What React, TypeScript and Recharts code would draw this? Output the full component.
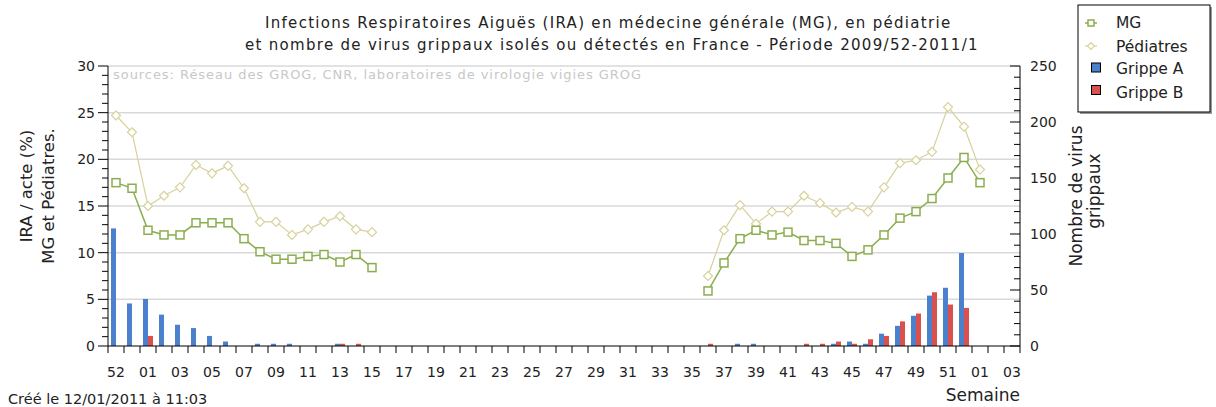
import React from 'react'
import { ComposedChart, Bar, Line, XAxis, YAxis, CartesianGrid } from 'recharts'

// semaines 2009/52 -> 2011/03
const weeks = [
  '52', '53',
  '01', '02', '03', '04', '05', '06', '07', '08', '09', '10',
  '11', '12', '13', '14', '15', '16', '17', '18', '19', '20',
  '21', '22', '23', '24', '25', '26', '27', '28', '29', '30',
  '31', '32', '33', '34', '35', '36', '37', '38', '39', '40',
  '41', '42', '43', '44', '45', '46', '47', '48', '49', '50',
  '51', '52',
  '01', '02', '03',
]

const N = null
// IRA / acte (%) - médecine générale
const mg = [
  17.5, 16.9, 12.4, 11.9, 11.9, 13.2, 13.2, 13.2, 11.5, 10.1, 9.3, 9.3, 9.6, 9.8, 9.0, 9.8, 8.4,
  N, N, N, N, N, N, N, N, N, N, N, N, N, N, N, N, N, N, N, N,
  5.9, 8.9, 11.5, 12.4, 11.9, 12.2, 11.3, 11.3, 11.0, 9.6, 10.3, 11.9, 13.7, 14.4, 15.8, 18.0, 20.2, 17.5,
  N, N,
]
// pédiatres
const ped = [
  24.7, 22.9, 15.0, 16.1, 17.0, 19.4, 18.5, 19.3, 16.9, 13.3, 13.3, 11.9, 12.5, 13.3, 13.9, 12.5, 12.2,
  N, N, N, N, N, N, N, N, N, N, N, N, N, N, N, N, N, N, N, N,
  7.5, 12.4, 15.1, 13.1, 14.4, 14.4, 16.1, 15.3, 14.3, 14.9, 14.4, 17.0, 19.6, 19.9, 20.8, 25.6, 23.5, 18.9,
  N, N,
]
// nombre de virus grippaux
const grippeA = [
  105, 38, 42, 28, 19, 16, 9, 4, 0, 2, 2, 2, 0, 0, 2, 0, 0,
  0, 0, 0, 0, 0, 0, 0, 0, 0, 0, 0, 0, 0, 0, 0, 0, 0, 0, 0, 0,
  0, 0, 2, 2, 0, 0, 0, 0, 2, 4, 2, 11, 18, 27, 45, 52, 83, 0,
  0, 0,
]
const grippeB = [
  0, 0, 9, 0, 0, 0, 0, 0, 0, 0, 0, 0, 0, 0, 2, 2, 0,
  0, 0, 0, 0, 0, 0, 0, 0, 0, 0, 0, 0, 0, 0, 0, 0, 0, 0, 0, 0,
  2, 0, 0, 0, 0, 0, 2, 2, 4, 2, 6, 9, 22, 29, 48, 37, 34, 0,
  0, 0,
]

const leftTicks = Array.from({ length: 31 }, (_, i) => i)
const rightTicks = Array.from({ length: 26 }, (_, i) => i * 10)

const data = weeks.map((w, i) => ({
  week: w,
  mg: mg[i],
  ped: ped[i],
  a: grippeA[i],
  b: grippeB[i],
}))

const FONT = '"DejaVu Sans", Verdana, sans-serif'
const BAND = 912 / weeks.length
const MG_COLOR = '#8aae4e'
const PED_COLOR = '#d8d19c'
const A_COLOR = '#4a80cc'
const B_COLOR = '#d9504e'

const XTick = (props: any) => {
  const { x, y, payload, index } = props
  const left = x - BAND / 2
  return (
    <g>
      <line x1={left} y1={y} x2={left} y2={y + 7} stroke="#000" />
      {index === weeks.length - 1 && (
        <line x1={x + BAND / 2} y1={y} x2={x + BAND / 2} y2={y + 7} stroke="#000" />
      )}
      {index % 2 === 0 && (
        <text x={x} y={y + 31} textAnchor="middle" fontSize={14} fontFamily={FONT} fill="#222">
          {payload.value}
        </text>
      )}
    </g>
  )
}

const LeftTick = (props: any) => {
  const { x, y, payload } = props
  const major = payload.value % 5 === 0
  return (
    <g>
      <line x1={x - (major ? 10 : 6)} y1={y} x2={x} y2={y} stroke="#000" />
      {major && (
        <text x={x - 13} y={y} dy="0.36em" textAnchor="end" fontSize={14} fontFamily={FONT} fill="#222">
          {payload.value}
        </text>
      )}
    </g>
  )
}

const RightTick = (props: any) => {
  const { x, y, payload } = props
  const major = payload.value % 50 === 0
  return (
    <g>
      <line x1={x} y1={y} x2={x - (major ? 10 : 6)} y2={y} stroke="#000" />
      {major && (
        <text x={x + 10} y={y} dy="0.36em" textAnchor="start" fontSize={14} fontFamily={FONT} fill="#222">
          {payload.value}
        </text>
      )}
    </g>
  )
}

const SquareDot = (p: any) => {
  if (p.cy == null || p.value == null) return <g key={p.key ?? p.index} />
  return (
    <rect key={p.key ?? p.index} x={p.cx - 4} y={p.cy - 4} width={8} height={8}
      fill="#fff" stroke={MG_COLOR} strokeWidth={1.5} />
  )
}

const DiamondDot = (p: any) => {
  if (p.cy == null || p.value == null) return <g key={p.key ?? p.index} />
  const { cx, cy } = p
  return (
    <path key={p.key ?? p.index} d={`M${cx},${cy - 4.5} L${cx + 4.5},${cy} L${cx},${cy + 4.5} L${cx - 4.5},${cy} Z`}
      fill="#fff" stroke={PED_COLOR} strokeWidth={1.2} />
  )
}

const Overlay = () => (
  <svg width={1216} height={407} style={{ position: 'absolute', left: 0, top: 0, pointerEvents: 'none' }}
    fontFamily={FONT}>
    <text x={265} y={28} fontSize={15} letterSpacing={1.3} fill="#222">
      Infections Respiratoires Aiguës (IRA) en médecine générale (MG), en pédiatrie
    </text>
    <text x={245} y={50} fontSize={15} letterSpacing={1.3} fill="#222">
      et nombre de virus grippaux isolés ou détectés en France - Période 2009/52-2011/1
    </text>
    <text x={113} y={79} fontSize={13} letterSpacing={0.95} fill="#c8c8c8">
      sources: Réseau des GROG, CNR, laboratoires de virologie vigies GROG
    </text>
    <text transform="translate(32,186) rotate(-90)" textAnchor="middle" fontSize={16.5} fill="#222">
      IRA / acte (%)
    </text>
    <text transform="translate(54,196) rotate(-90)" textAnchor="middle" fontSize={16.5} fill="#222">
      MG et Pédiatres.
    </text>
    <text transform="translate(1082,196) rotate(-90)" textAnchor="middle" fontSize={17} fill="#222">
      Nombre de virus
    </text>
    <text transform="translate(1100,191) rotate(-90)" textAnchor="middle" fontSize={17} fill="#222">
      grippaux
    </text>
    <text x={1020} y={401} textAnchor="end" fontSize={17} fill="#222">Semaine</text>
    <text x={8} y={404} fontSize={14.5} fill="#222">Créé le 12/01/2011 à 11:03</text>

    <rect x={1080} y={7} width={132} height={107} fill="#999" />
    <rect x={1078} y={5} width={132} height={107} fill="#fff" stroke="#000" />
    <line x1={1085} y1={23} x2={1097} y2={23} stroke={MG_COLOR} strokeWidth={1.5} />
    <rect x={1088} y={20} width={6} height={6} fill="#fff" stroke={MG_COLOR} strokeWidth={1.5} />
    <text x={1116} y={28} fontSize={15.5} fill="#222">MG</text>
    <line x1={1085} y1={46} x2={1097} y2={46} stroke={PED_COLOR} strokeWidth={1.2} />
    <path d="M1091,42.5 L1094.5,46 L1091,49.5 L1087.5,46 Z" fill="#fff" stroke={PED_COLOR} strokeWidth={1.2} />
    <text x={1116} y={51.5} fontSize={15.5} fill="#222">Pédiatres</text>
    <rect x={1091.5} y={63} width={9} height={9} fill={A_COLOR} stroke="#000" />
    <text x={1116} y={74} fontSize={15.5} fill="#222">Grippe A</text>
    <rect x={1091.5} y={85.5} width={9} height={9} fill={B_COLOR} stroke="#000" />
    <text x={1116} y={97.5} fontSize={15.5} fill="#222">Grippe B</text>
  </svg>
)

export default function App() {
  return (
    <div style={{ position: 'absolute', left: 0, top: 0, width: 1216, height: 407, background: '#fff' }}>
      <ComposedChart width={1216} height={407} data={data} barGap={0} barSize={5}
        margin={{ top: 66, right: 136, bottom: 21, left: 0 }}>
        <CartesianGrid yAxisId="left" vertical={false} horizontalValues={[5, 10, 15, 20, 25, 30]}
          stroke="#d9d9d9" strokeWidth={1.5} />
        <XAxis dataKey="week" interval={0} tickSize={0} tickMargin={0} tickLine={false}
          axisLine={{ stroke: '#000' }} tick={<XTick />} height={40} />
        <YAxis yAxisId="left" domain={[0, 30]} ticks={leftTicks} interval={0} width={108}
          tickSize={0} tickMargin={0} tickLine={false} axisLine={{ stroke: '#000' }} tick={<LeftTick />} />
        <YAxis yAxisId="right" orientation="right" domain={[0, 250]} ticks={rightTicks} interval={0} width={60}
          tickSize={0} tickMargin={0} tickLine={false} axisLine={{ stroke: '#000' }} tick={<RightTick />} />
        <Bar yAxisId="right" dataKey="a" fill={A_COLOR} isAnimationActive={false} />
        <Bar yAxisId="right" dataKey="b" fill={B_COLOR} isAnimationActive={false} />
        <Line yAxisId="left" dataKey="ped" stroke={PED_COLOR} strokeWidth={1.2} dot={DiamondDot}
          activeDot={false} isAnimationActive={false} />
        <Line yAxisId="left" dataKey="mg" stroke={MG_COLOR} strokeWidth={1.5} dot={SquareDot}
          activeDot={false} isAnimationActive={false} />
      </ComposedChart>
      <Overlay />
    </div>
  )
}
